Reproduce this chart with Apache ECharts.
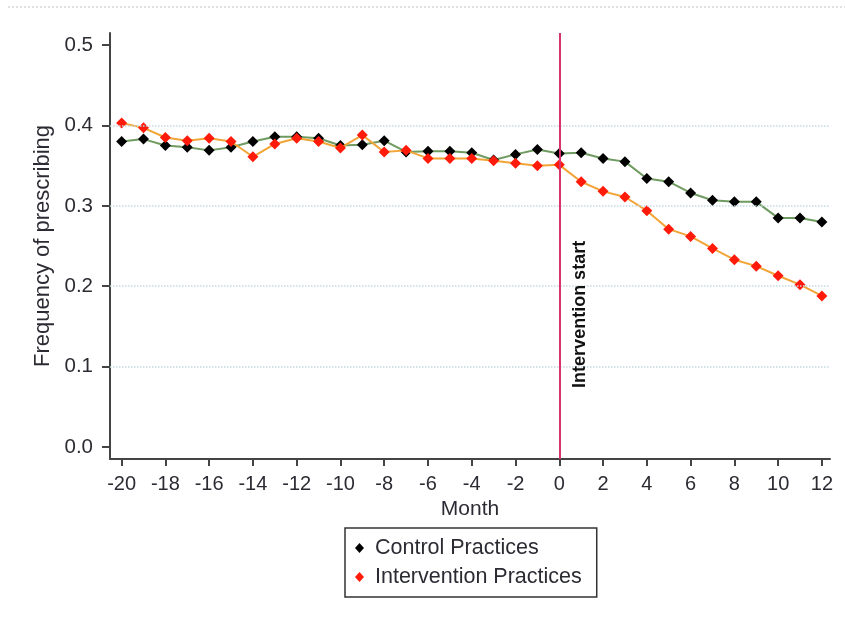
<!DOCTYPE html>
<html><head><meta charset="utf-8">
<script src="https://cdn.jsdelivr.net/npm/echarts@6/dist/echarts.min.js"></script>
<style>html,body{margin:0;padding:0;background:#fff}#c{width:845px;height:620px}</style>
</head><body><div id="c"></div>
<script>
const months = [-20,-19,-18,-17,-16,-15,-14,-13,-12,-11,-10,-9,-8,-7,-6,-5,-4,-3,-2,-1,0,1,2,3,4,5,6,7,8,9,10,11,12];
const control = [0.380,0.383,0.375,0.373,0.369,0.373,0.380,0.386,0.386,0.384,0.375,0.376,0.381,0.367,0.368,0.368,0.366,0.357,0.364,0.370,0.365,0.366,0.359,0.355,0.334,0.330,0.316,0.307,0.305,0.305,0.285,0.285,0.280];
const intervention = [0.403,0.397,0.385,0.381,0.384,0.380,0.361,0.377,0.384,0.380,0.372,0.388,0.367,0.369,0.359,0.359,0.359,0.356,0.353,0.350,0.351,0.330,0.318,0.311,0.294,0.271,0.262,0.247,0.233,0.225,0.213,0.202,0.188];
const xTicks = [-20,-18,-16,-14,-12,-10,-8,-6,-4,-2,0,2,4,6,8,10,12];
const yTicks = [0,0.1,0.2,0.3,0.4,0.5];
const gridValues = [0.1,0.2,0.3,0.4];
const interventionMonth = 0;
const annotationRange = [0.06, 0.27];
const seriesNames = ['Control Practices','Intervention Practices'];
const annotationText = 'Intervention start';
const xName = 'Month';
const yName = 'Frequency of prescribing';

const FONT = 'Liberation Sans, Arial, sans-serif';
const axisColor = '#444';
const textColor = '#2b2b33';
const chart = echarts.init(document.getElementById('c'), null, {renderer:'canvas'});
const pairs = arr => months.map((m,i)=>[m, arr[i]]);

chart.setOption({
  backgroundColor:'#fff',
  animation:false,
  textStyle:{fontFamily:FONT},
  grid:{left:110, right:15, top:33, bottom:161, containLabel:false},
  graphic:[{type:'line', shape:{x1:8,y1:7,x2:845,y2:7}, style:{stroke:'#d8d8d8', lineWidth:1.5, lineDash:[2,2]}, silent:true}],
  xAxis:{
    type:'value', min:-20.53, max:12.37,
    name:xName, nameLocation:'middle', nameGap:31,
    nameTextStyle:{fontSize:21, color:textColor, fontFamily:FONT},
    axisLine:{show:true, onZero:false, lineStyle:{color:axisColor, width:2}},
    axisTick:{show:true, length:7, customValues:xTicks, lineStyle:{color:axisColor, width:2}},
    axisLabel:{customValues:xTicks, fontSize:20, color:textColor, margin:15, fontFamily:FONT},
    splitLine:{show:false}
  },
  yAxis:{
    type:'value', min:-0.0149, max:0.515,
    name:yName, nameLocation:'middle', nameGap:55, nameRotate:90,
    nameTextStyle:{fontSize:22, color:textColor, fontFamily:FONT},
    axisLine:{show:true, onZero:false, lineStyle:{color:axisColor, width:2}},
    axisTick:{show:true, length:8, customValues:yTicks, lineStyle:{color:axisColor, width:2}},
    axisLabel:{customValues:yTicks, fontSize:20.5, color:textColor, margin:17, fontFamily:FONT, formatter:v=>v.toFixed(1)},
    splitLine:{show:false}
  },
  legend:{
    left:345, top:528, orient:'vertical',
    borderColor:'#333', borderWidth:1.5, borderRadius:0,
    padding:[9,15,9,10], itemGap:7, itemWidth:9, itemHeight:10,
    textStyle:{fontSize:21.5, color:textColor, fontFamily:FONT, lineHeight:22, padding:[0,0,0,6]},
    data:[{name:seriesNames[0], icon:'diamond'},{name:seriesNames[1], icon:'diamond'}]
  },
  series:[
    {
      type:'line', name:'grid', data:[], z:1, silent:true,
      markLine:{silent:true, symbol:'none', label:{show:false},
        lineStyle:{type:'dotted', color:'#c3d9de', width:1.5},
        data:gridValues.map(v=>({yAxis:v}))}
    },
    {
      type:'line', name:seriesNames[0], data:pairs(control), z:3,
      symbol:'diamond', symbolSize:11, showSymbol:true,
      itemStyle:{color:'#000'},
      lineStyle:{color:'#6f9a60', width:2}
    },
    {
      type:'line', name:seriesNames[1], data:pairs(intervention), z:4,
      symbol:'diamond', symbolSize:11, showSymbol:true,
      itemStyle:{color:'#ff1a0a'},
      lineStyle:{color:'#f2a436', width:2},
      markLine:{silent:true, symbol:'none', animation:false,
        data:[
          {xAxis:interventionMonth, lineStyle:{color:'#d8336a', width:2, type:'solid'}, label:{show:false}},
          [
            {coord:[interventionMonth, annotationRange[0]], lineStyle:{color:'rgba(0,0,0,0)', width:0},
             label:{show:true, formatter:annotationText, position:'insideMiddleBottom', distance:12,
               fontSize:18, fontWeight:'bold', color:'#111', fontFamily:FONT}},
            {coord:[interventionMonth, annotationRange[1]]}
          ]
        ]}
    }
  ]
});
</script></body></html>
